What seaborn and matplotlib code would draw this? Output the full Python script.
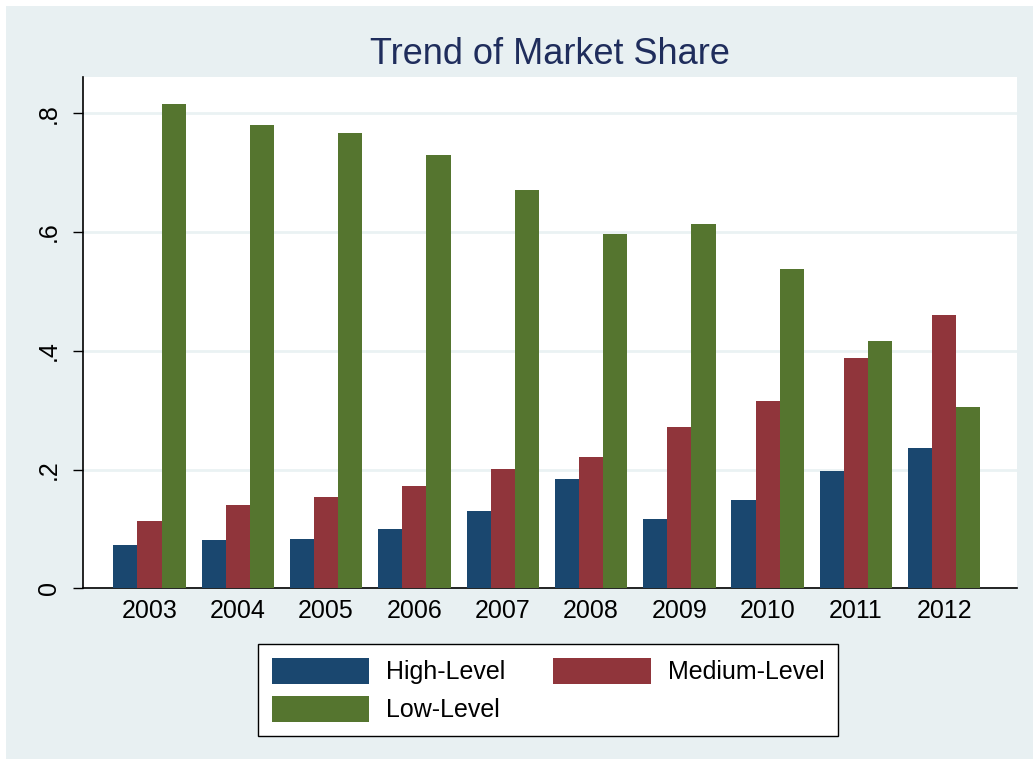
import pandas as pd
import matplotlib.pyplot as plt
import seaborn as sns
from matplotlib.patches import Rectangle

# Market share by year and segment
years = ['2003', '2004', '2005', '2006', '2007', '2008', '2009', '2010', '2011', '2012']
high_level = [0.073, 0.081, 0.083, 0.100, 0.131, 0.184, 0.116, 0.149, 0.198, 0.236]
medium_level = [0.114, 0.140, 0.153, 0.172, 0.201, 0.221, 0.272, 0.316, 0.387, 0.460]
low_level = [0.816, 0.780, 0.766, 0.729, 0.670, 0.597, 0.613, 0.538, 0.417, 0.305]
series_names = ['High-Level', 'Medium-Level', 'Low-Level']
y_ticks = [0, 0.2, 0.4, 0.6, 0.8]
y_tick_labels = ['0', '.2', '.4', '.6', '.8']

df = pd.DataFrame({
    'year': years * 3,
    'share': high_level + medium_level + low_level,
    'level': [s for s in series_names for _ in years],
})

bg = '#E8F0F2'
colors = ['#1A476F', '#90353B', '#55752F']

sns.set_style("white")
plt.rcParams['font.family'] = ['Liberation Sans', 'DejaVu Sans']
plt.rcParams['text.color'] = 'black'
plt.rcParams['xtick.color'] = 'black'
plt.rcParams['ytick.color'] = 'black'

fig = plt.figure(figsize=(10.33, 7.59), dpi=100)
fig.patch.set_facecolor('white')
# light bluish-grey graph region (white border around it), kept behind the axes
fig.patches.append(Rectangle((6 / 1033, 0), 1 - 6 / 1033, 1 - 6 / 759,
                             transform=fig.transFigure, facecolor=bg,
                             edgecolor='none', zorder=-10))

ax = fig.add_axes([83 / 1033, 1 - 588.3 / 759, 933.7 / 1033, 511.3 / 759])
ax.set_facecolor('white')

sns.barplot(data=df, x='year', y='share', hue='level', hue_order=series_names,
            palette=colors, width=0.82, gap=0, saturation=1, ax=ax,
            edgecolor='none', zorder=3)

ax.set_xlim(-0.753, 9.82)
ax.set_ylim(0, 0.861)
ax.set_yticks(y_ticks)
ax.set_yticklabels(y_tick_labels, rotation=90, va='center', fontsize=18)
ax.tick_params(axis='y', length=7, width=1, direction='out', color='black',
               labelcolor='black', pad=9, left=True)
ax.tick_params(axis='x', length=0, labelsize=18, labelcolor='black', pad=8)
ax.grid(axis='y', color='#EAF2F3', linewidth=2, zorder=0)
ax.set_axisbelow(True)
ax.set_xlabel('')
ax.set_ylabel('')

for side in ['top', 'right']:
    ax.spines[side].set_visible(False)
for side in ['left', 'bottom']:
    ax.spines[side].set_color('black')
    ax.spines[side].set_linewidth(1.2)

fig.text(549.5 / 1033, 1 - 54 / 759, 'Trend of Market Share', ha='center', va='center',
         fontsize=26, color='#1F2D5C')

# Legend filled row by row: High, Medium / Low
handles = ax.get_legend().legend_handles
ax.get_legend().remove()
order = [0, 2, 1]
leg = ax.legend([handles[i] for i in order], [series_names[i] for i in order],
                loc='center', bbox_to_anchor=(0.498, -0.199), ncol=2,
                frameon=True, fancybox=False, fontsize=18, handlelength=3.9,
                handleheight=1.2, handletextpad=0.68, columnspacing=1.9,
                labelspacing=0.47, borderpad=0.55, labelcolor='black')
leg.get_frame().set_edgecolor('black')
leg.get_frame().set_linewidth(1)
leg.get_frame().set_facecolor('white')
leg.get_frame().set_alpha(1)

plt.savefig('out.png', dpi=100, facecolor=fig.get_facecolor())
